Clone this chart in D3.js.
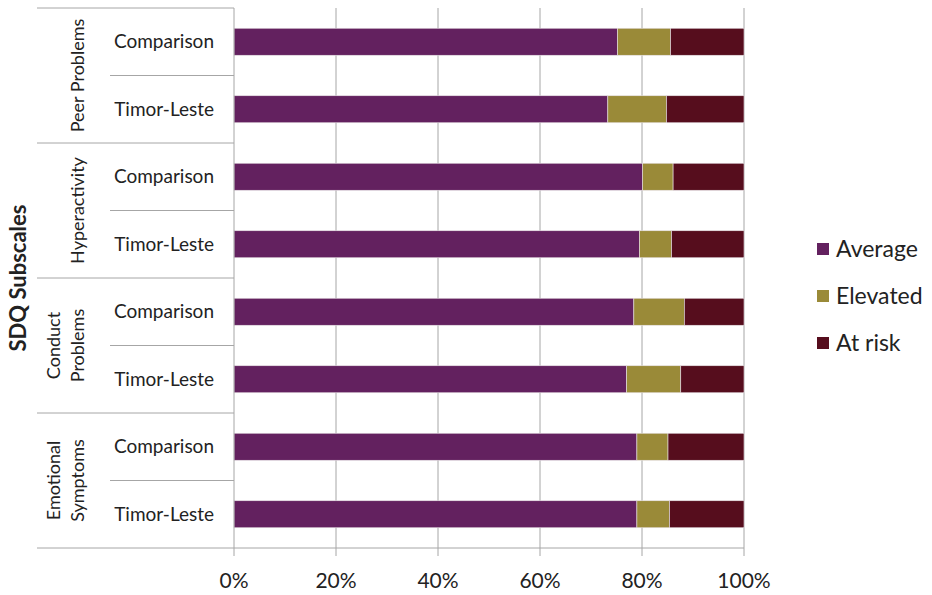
<!DOCTYPE html>
<html>
<head>
<meta charset="utf-8">
<script src="https://cdn.jsdelivr.net/npm/d3@7"></script>
<style>
  html, body { margin: 0; padding: 0; background: #fff; }
  svg { display: block; }
  text { font-family: Lato, "Open Sans", "Liberation Sans", sans-serif; fill: #222; }
</style>
</head>
<body>
<svg id="chart" width="932" height="595"></svg>
<script>
// SDQ subscales, each compared for two groups (top to bottom)
const subscales = [["Peer Problems"], ["Hyperactivity"], ["Conduct", "Problems"], ["Emotional", "Symptoms"]];
const groups = ["Comparison", "Timor-Leste"];
const seriesNames = ["Average", "Elevated", "At risk"];

// Percentages per row, in the order: Peer, Hyperactivity, Conduct, Emotional (Comparison, Timor-Leste each)
const average  = [75.2, 73.3, 80.1, 79.5, 78.4, 77.0, 79.0, 79.0];
const elevated = [10.4, 11.5,  6.0,  6.3,  9.9, 10.6,  6.1,  6.4];
const atRisk   = [14.4, 15.2, 13.9, 14.2, 11.7, 12.4, 14.9, 14.6];

const xTicks = [0, 20, 40, 60, 80, 100];
const colors = ["#63215f", "#9a8a38", "#560d1d"];

// Build row records
const rows = [];
subscales.forEach((s, i) => groups.forEach((g, j) => {
  const k = i * 2 + j;
  rows.push({ id: k, subscale: i, group: g, Average: average[k], Elevated: elevated[k], "At risk": atRisk[k] });
}));

const svg = d3.select("#chart");
const plotLeft = 234, plotRight = 744, plotTop = 8, plotBottom = 548;

const x = d3.scaleLinear().domain([0, 100]).range([plotLeft, plotRight]);
const y = d3.scaleBand().domain(rows.map(d => d.id)).range([plotTop, plotBottom])
  .paddingInner(0.6).paddingOuter(0.3);
const step = y.step();

const gridColor = "#a6a6a6";

// Vertical gridlines with tick marks below the plot
svg.append("g").selectAll("line").data(xTicks.slice(1)).join("line")
  .attr("x1", d => x(d)).attr("x2", d => x(d))
  .attr("y1", plotTop).attr("y2", plotBottom + 8)
  .attr("stroke", gridColor).attr("stroke-width", 1);

// Stacked bars
const stack = d3.stack().keys(seriesNames);
const layers = stack(rows);
svg.append("g").selectAll("g").data(layers).join("g")
  .attr("fill", (d, i) => colors[i])
  .selectAll("rect").data(d => d).join("rect")
  .attr("x", d => x(d[0]))
  .attr("width", d => x(d[1]) - x(d[0]))
  .attr("y", d => y(d.data.id))
  .attr("height", y.bandwidth())
  .attr("stroke", "#e8e2e6").attr("stroke-width", 0.6);

// Category axis line and zero tick
svg.append("line").attr("x1", plotLeft).attr("x2", plotLeft).attr("y1", plotTop).attr("y2", plotBottom + 8)
  .attr("stroke", gridColor);

// Bottom axis line
svg.append("line").attr("x1", 37).attr("x2", plotRight).attr("y1", plotBottom).attr("y2", plotBottom)
  .attr("stroke", gridColor);

// Group separators (full width of the label area) and inner separators
const sepG = svg.append("g");
subscales.forEach((s, i) => {
  const y0 = y(i * 2) - (step - y.bandwidth()) / 2;
  sepG.append("line").attr("x1", 37).attr("x2", plotLeft).attr("y1", y0).attr("y2", y0)
    .attr("stroke", gridColor);
  const y1 = y(i * 2 + 1) - (step - y.bandwidth()) / 2;
  sepG.append("line").attr("x1", 110).attr("x2", plotLeft).attr("y1", y1).attr("y2", y1)
    .attr("stroke", gridColor);
});

// Group labels
svg.append("g").selectAll("text").data(rows).join("text")
  .attr("x", 214).attr("y", d => y(d.id) + y.bandwidth() / 2)
  .attr("dy", "0.35em").attr("text-anchor", "end")
  .attr("font-size", 19).text(d => d.group);

// Subscale labels, rotated
subscales.forEach((lines, i) => {
  const cy = y(i * 2) - (step - y.bandwidth()) / 2 + step;
  const lh = 24;
  lines.forEach((ln, k) => {
    const cx = 78 - (lines.length - 1 - k) * lh;
    svg.append("text")
      .attr("transform", `translate(${cx},${cy}) rotate(-90)`)
      .attr("text-anchor", "middle").attr("dy", "0.35em")
      .attr("font-size", 18).text(ln);
  });
});

// Axis title
svg.append("text")
  .attr("transform", `translate(18,${(plotTop + plotBottom) / 2}) rotate(-90)`)
  .attr("text-anchor", "middle").attr("dy", "0.35em")
  .attr("font-size", 22).attr("font-weight", "bold").text("SDQ Subscales");

// X tick labels
svg.append("g").selectAll("text").data(xTicks).join("text")
  .attr("x", d => x(d)).attr("y", 581).attr("dy", "0.35em")
  .attr("text-anchor", "middle").attr("font-size", 21)
  .text(d => d + "%");

// Legend
const lg = svg.append("g").attr("transform", "translate(817,249)");
seriesNames.forEach((name, i) => {
  const g = lg.append("g").attr("transform", `translate(0,${i * 47})`);
  g.append("rect").attr("x", 0).attr("y", -6).attr("width", 12).attr("height", 12)
    .attr("fill", colors[i]);
  g.append("text").attr("x", 19).attr("y", 0).attr("dy", "0.35em")
    .attr("font-size", 23).text(name);
});
</script>
</body>
</html>
